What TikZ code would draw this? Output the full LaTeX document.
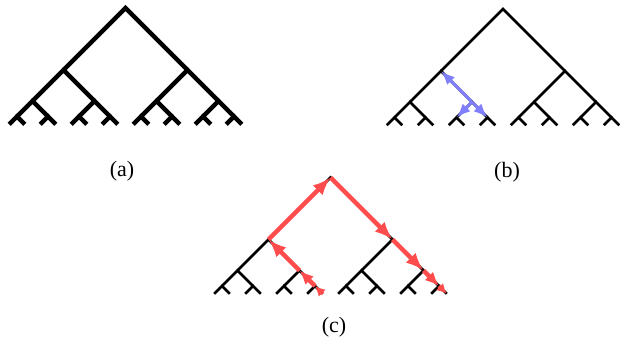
\documentclass[tikz,border=0pt]{standalone}
\usepackage{fontspec}
\setmainfont{Liberation Serif}
\usetikzlibrary{calc,arrows.meta}
\definecolor{redarrow}{RGB}{255,77,77}
\definecolor{bluearrow}{RGB}{128,128,255}
\newcommand\tkids[2]{%
  \coordinate (#1L) at ($(#1)+(-#2,#2)$);
  \coordinate (#1R) at ($(#1)+(#2,#2)$);
  \draw[treeline] (#1L) -- (#1) -- (#1R);}
\newcommand\fulltree[3]{%
  \coordinate (#1) at (#2,#3);
  \tkids{#1}{62}%
  \tkids{#1L}{31}\tkids{#1R}{31}%
  \tkids{#1LL}{15.5}\tkids{#1LR}{15.5}\tkids{#1RL}{15.5}\tkids{#1RR}{15.5}%
  \tkids{#1LLL}{7.75}\tkids{#1LLR}{7.75}\tkids{#1LRL}{7.75}\tkids{#1LRR}{7.75}%
  \tkids{#1RLL}{7.75}\tkids{#1RLR}{7.75}\tkids{#1RRL}{7.75}\tkids{#1RRR}{7.75}}
\tikzset{
  treeline/.style={line width=2.8pt, black},
  lbl/.style={font=\fontsize{22}{26}\selectfont, inner sep=0pt},
  redbig/.style={draw=redarrow, line width=4.5pt, -{Latex[length=18pt,width=14pt]}},
  redmid/.style={draw=redarrow, line width=4.5pt, -{Latex[length=14pt,width=12pt]}},
  redsmall/.style={draw=redarrow, line width=4pt, -{Latex[length=10pt,width=10pt]}},
  bluearr/.style={draw=bluearrow, line width=3pt, -{Latex[length=14pt,width=11pt]}},
}
\begin{document}
\begin{tikzpicture}[x=1pt,y=-1pt]
\useasboundingbox (0,0) rectangle (620,341);
% (a)
\begin{scope}[treeline/.style={line width=4.3pt, black}]
\fulltree{a}{125.5}{8}
\end{scope}
% (b)
\fulltree{b}{503}{9}
% (c)
\fulltree{c}{330.5}{177.5}
% blue arrows in (b)
\draw[bluearr] (bLR) -- (bL);
\draw[bluearr] (bLR) -- (bLRR);
\draw[bluearr] (bLR) -- (bLRL);
% red path in (c)
\draw[redsmall] (cLRRR) -- (cLRR);
\draw[redmid] (cLRR) -- (cLR);
\draw[redbig] (cLR) -- (cL);
\draw[redbig] (cL) -- (c);
\draw[redbig] (c) -- (cR);
\draw[redbig] (cR) -- (cRR);
\draw[redmid] (cRR) -- (cRRR);
\draw[redsmall] (cRRR) -- (cRRRR);
% labels
\node[lbl] (la) at (122,171) {(a)};
\node[lbl] (lb) at (507,172) {(b)};
\node[lbl] (lc) at (334,327) {(c)};
\end{tikzpicture}
\end{document}
